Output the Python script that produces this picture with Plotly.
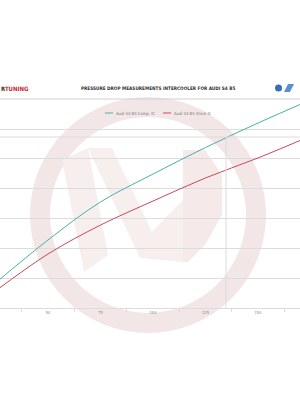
import plotly.graph_objects as go

# ---- data ----
flow = [25, 50, 75, 100, 125, 150, 175]
comp_ic = [16.8, 45.6, 71.1, 89.8, 107.6, 124.0, 139.5]
stock_ic = [11.4, 36.2, 55.6, 71.7, 87.2, 100.6, 115.3]
x_tick_vals = [50, 75, 100, 125, 150]
x_tick_text = ["50", "75", "100", "125", "150"]
x_minor_vals = [37.5, 62.5, 87.5, 112.5, 137.5, 162.5]
y_grid_vals = [20, 40, 60, 80, 100, 120]
marker_x = 134.8
series_names = ["Audi S4 B5 Comp. IC", "Audi S4 B5 Stock IC"]
title_text = "PRESSURE DROP MEASUREMENTS INTERCOOLER FOR AUDI S4 B5"

W, H = 300, 400
TOP, BOT = 100.0, 308.0
UNIT_PX = 29.83 / 20.0
X_RANGE = [27.143, 170.0]
Y_RANGE = [0, (BOT - TOP) / UNIT_PX]

def px(x):
    return x / W

def py(y):
    return (BOT - y) / (BOT - TOP)

TEAL = "#48b0a6"
RED = "#c84a5a"
GRID = "#dcdcdc"
NARROW = "Liberation Sans Narrow, DejaVu Sans Condensed, Arial Narrow, sans-serif"

fig = go.Figure()
fig.add_trace(go.Scatter(x=flow, y=comp_ic, mode="lines", name=series_names[0],
                         line=dict(color=TEAL, width=1, shape="spline"), showlegend=False))
fig.add_trace(go.Scatter(x=flow, y=stock_ic, mode="lines", name=series_names[1],
                         line=dict(color=RED, width=1, shape="spline"), showlegend=False))

shapes = []
# watermark ring
cx, cy, r = 148, 215, 108
shapes.append(dict(type="circle", xref="paper", yref="paper",
                   x0=px(cx - r), x1=px(cx + r), y0=py(cy + r), y1=py(cy - r),
                   line=dict(color="#f3e6e6", width=20), fillcolor="rgba(0,0,0,0)", layer="below"))
wm = "#f7eeee"
def poly(pts, color=wm):
    d = "M " + " L ".join(f"{px(a):.4f},{py(b):.4f}" for a, b in pts) + " Z"
    return dict(type="path", xref="paper", yref="paper", path=d,
                fillcolor=color, line=dict(width=0), layer="below")
# stylised W / D of the watermark logo
shapes.append(poly([(62, 160), (88, 148), (108, 255), (84, 272)]))
shapes.append(poly([(88, 148), (112, 148), (152, 232), (140, 258)]))
shapes.append(poly([(140, 258), (152, 232), (183, 200), (183, 262)]))
shapes.append(poly([(183, 150), (205, 150), (222, 175), (222, 215), (205, 245), (188, 262), (183, 262)], "#f5e9e9"))
# marker vertical line
shapes.append(dict(type="line", xref="x", yref="paper", x0=marker_x, x1=marker_x,
                   y0=py(308), y1=py(137), line=dict(color=GRID, width=1)))
# extra top border line
shapes.append(dict(type="line", xref="paper", yref="paper", x0=0, x1=1,
                   y0=py(137), y1=py(137), line=dict(color=GRID, width=1)))
# header separator
shapes.append(dict(type="line", xref="paper", yref="paper", x0=0, x1=1,
                   y0=py(99), y1=py(99), line=dict(color="#d0d0d0", width=1)))
# legend samples
shapes.append(dict(type="line", xref="paper", yref="paper", x0=px(105), x1=px(113),
                   y0=py(113), y1=py(113), line=dict(color=TEAL, width=1)))
shapes.append(dict(type="line", xref="paper", yref="paper", x0=px(163), x1=px(171),
                   y0=py(113), y1=py(113), line=dict(color=RED, width=1)))
# small right logo
shapes.append(dict(type="circle", xref="paper", yref="paper", x0=px(275), x1=px(282),
                   y0=py(91.5), y1=py(84.5), fillcolor="#3a6db3", line=dict(width=0)))
shapes.append(dict(type="path", xref="paper", yref="paper",
                   path=f"M {px(284)},{py(92)} L {px(288)},{py(84)} L {px(294)},{py(84)} L {px(290)},{py(92)} Z",
                   fillcolor="#5b8fd0", line=dict(width=0)))

annotations = [
    dict(text="<b><span style='color:#3a2a2a'>R</span>TUNING</b>", xref="paper", yref="paper",
         x=px(-1), y=py(88), xanchor="left", yanchor="middle", showarrow=False,
         font=dict(family=NARROW, size=6, color="#c0282d")),
    dict(text="<b>" + title_text + "</b>", xref="paper", yref="paper",
         x=px(158), y=py(88), xanchor="center", yanchor="middle", showarrow=False,
         font=dict(family=NARROW, size=4.7, color="#333333")),
    dict(text=series_names[0], xref="paper", yref="paper", x=px(114), y=py(113),
         xanchor="left", yanchor="middle", showarrow=False,
         font=dict(family=NARROW, size=4.2, color="#777777")),
    dict(text=series_names[1], xref="paper", yref="paper", x=px(172), y=py(113),
         xanchor="left", yanchor="middle", showarrow=False,
         font=dict(family=NARROW, size=4.2, color="#777777")),
]

fig.update_layout(
    width=W, height=H,
    margin=dict(l=0, r=0, t=TOP, b=H - BOT, pad=0),
    paper_bgcolor="white", plot_bgcolor="rgba(0,0,0,0)",
    shapes=shapes, annotations=annotations,
    xaxis=dict(range=X_RANGE, tickvals=x_tick_vals, ticktext=x_tick_text, ticks="",
               showgrid=False, zeroline=False, showline=True, linecolor=GRID, linewidth=1,
               tickfont=dict(family=NARROW, size=4, color="#888888"),
               minor=dict(tickvals=x_minor_vals, ticks="outside", ticklen=3,
                          tickcolor=GRID, showgrid=False)),
    yaxis=dict(range=Y_RANGE, tickvals=y_grid_vals, showticklabels=False, ticks="",
               showgrid=True, gridcolor=GRID, gridwidth=1, zeroline=False),
)

fig.write_html("out.html")
